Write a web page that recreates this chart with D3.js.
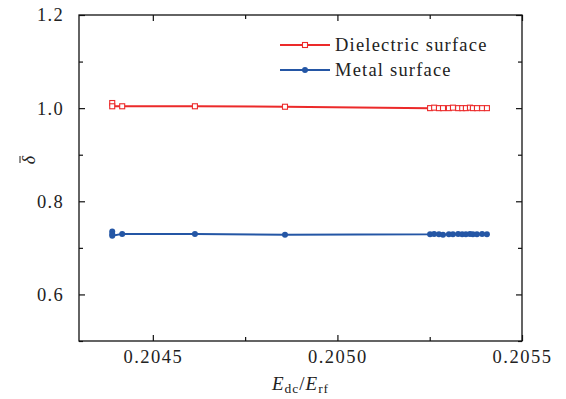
<!DOCTYPE html>
<html>
<head>
<meta charset="utf-8">
<script src="https://cdn.jsdelivr.net/npm/d3@7"></script>
<style>
  body { margin: 0; background: #fff; }
  text { font-family: "Liberation Serif", "DejaVu Serif", serif; fill: #222; }
</style>
</head>
<body>
<div id="chart"></div>
<script>
// E_dc/E_rf values (same for both surfaces, first x repeated)
const xDielectric = [0.20439, 0.20439, 0.204417, 0.204614, 0.204858, 0.205251, 0.205262, 0.205275, 0.205286,
  0.205302, 0.205313, 0.205327, 0.205338, 0.205348, 0.205359, 0.205367, 0.205378, 0.205392, 0.205405];
const yDielectric = [1.011, 1.004, 1.004, 1.004, 1.003, 1.000, 1.001, 1.000, 1.000,
  1.000, 1.001, 1.000, 1.000, 1.000, 1.001, 1.000, 1.000, 1.000, 1.000];

const xMetal = [0.20439, 0.20439, 0.20439, 0.204417, 0.204614, 0.204858, 0.205251, 0.205262, 0.205275, 0.205286,
  0.205302, 0.205313, 0.205327, 0.205338, 0.205348, 0.205359, 0.205367, 0.205378, 0.205392, 0.205405];
const yMetal = [0.735, 0.730, 0.726, 0.730, 0.730, 0.728, 0.729, 0.730, 0.729, 0.728,
  0.729, 0.729, 0.730, 0.729, 0.729, 0.730, 0.729, 0.729, 0.730, 0.729];

const xTicks = [0.2045, 0.2050, 0.2055];
const xMinor = [0.20475, 0.20525];
const yTicks = [0.6, 0.8, 1.0, 1.2];
const yMinor = [0.5, 0.7, 0.9, 1.1];

const seriesNames = ["Dielectric surface", "Metal surface"];

(function () {
  const W = 566, H = 399;
  const margin = { top: 15, right: 44, bottom: 58, left: 79 },
    width = W - margin.left - margin.right,
    height = H - margin.top - margin.bottom;

  const red = "#ec2a2a", blue = "#2456a5";

  const svg = d3.select("#chart").append("svg")
    .attr("width", W).attr("height", H);
  const g = svg.append("g")
    .attr("transform", "translate(" + margin.left + "," + margin.top + ")");

  const x = d3.scaleLinear().domain([0.2043, 0.2055]).range([0, width]);
  const y = d3.scaleLinear().domain([0.5, 1.2]).range([height, 0]);

  // frame + inward ticks on all four sides
  function ticks(axis, vals, size, transform, fmt) {
    const a = axis.tickValues(vals).tickSize(size).tickSizeOuter(0);
    a.tickFormat(fmt || "");
    const s = g.append("g").attr("transform", transform).call(a);
    s.select(".domain").remove();
    s.selectAll("line").attr("stroke", "#111").attr("stroke-width", 1.2);
    return s;
  }
  const xf = d3.format(".4f"), yf = d3.format(".1f");
  const bx = ticks(d3.axisBottom(x), xTicks, -6, "translate(0," + height + ")", xf);
  ticks(d3.axisBottom(x), xMinor, -4, "translate(0," + height + ")");
  ticks(d3.axisTop(x), xTicks, -6, "translate(0,0)");
  ticks(d3.axisTop(x), xMinor, -4, "translate(0,0)");
  const ly = ticks(d3.axisLeft(y), yTicks, -6, "translate(0,0)", yf);
  ticks(d3.axisLeft(y), yMinor, -4, "translate(0,0)");
  ticks(d3.axisRight(y), yTicks, -6, "translate(" + width + ",0)");
  ticks(d3.axisRight(y), yMinor, -4, "translate(" + width + ",0)");

  bx.selectAll("text").attr("font-size", "18.5px").attr("letter-spacing", "1.5px")
    .attr("y", 9).attr("dy", "0.71em").attr("fill", "#222");
  ly.selectAll("text").attr("font-size", "18.5px").attr("letter-spacing", "1.3px")
    .attr("x", -15).attr("fill", "#222");

  g.append("rect").attr("width", width).attr("height", height)
    .attr("fill", "none").attr("stroke", "#111").attr("stroke-width", 1.3);

  // series
  const line = d3.line().x(d => x(d[0])).y(d => y(d[1]));
  const dData = xDielectric.map((v, i) => [v, yDielectric[i]]);
  const mData = xMetal.map((v, i) => [v, yMetal[i]]);

  g.append("path").datum(dData).attr("d", line)
    .attr("fill", "none").attr("stroke", red).attr("stroke-width", 2);
  g.append("path").datum(mData).attr("d", line)
    .attr("fill", "none").attr("stroke", blue).attr("stroke-width", 2);

  g.selectAll(".sq").data(dData).enter().append("rect")
    .attr("class", "sq")
    .attr("x", d => x(d[0]) - 2.5).attr("y", d => y(d[1]) - 2.5)
    .attr("width", 5).attr("height", 5)
    .attr("fill", "#fff").attr("stroke", red).attr("stroke-width", 1.1);
  g.selectAll(".dot").data(mData).enter().append("circle")
    .attr("class", "dot")
    .attr("cx", d => x(d[0])).attr("cy", d => y(d[1])).attr("r", 3)
    .attr("fill", blue);

  // legend
  const lg = svg.append("g");
  seriesNames.forEach(function (name, i) {
    const yy = 45 + i * 25;
    const col = i === 0 ? red : blue;
    lg.append("line").attr("x1", 280).attr("x2", 330).attr("y1", yy).attr("y2", yy)
      .attr("stroke", col).attr("stroke-width", 2);
    if (i === 0) {
      lg.append("rect").attr("x", 302.5).attr("y", yy - 2.5).attr("width", 5).attr("height", 5)
        .attr("fill", "#fff").attr("stroke", red).attr("stroke-width", 1.1);
    } else {
      lg.append("circle").attr("cx", 305).attr("cy", yy).attr("r", 3).attr("fill", blue);
    }
    lg.append("text").attr("x", 335).attr("y", yy + 6)
      .attr("font-size", "18.5px").attr("letter-spacing", "1.2px").text(name);
  });

  // axis titles
  const xt = svg.append("text").attr("x", margin.left + width / 2).attr("y", 390)
    .attr("text-anchor", "middle").attr("font-size", "19px").attr("letter-spacing", "1px");
  xt.append("tspan").attr("font-style", "italic").text("E");
  xt.append("tspan").attr("font-size", "13.5px").attr("dy", 3).text("dc");
  xt.append("tspan").attr("dy", -3).text("/");
  xt.append("tspan").attr("font-style", "italic").text("E");
  xt.append("tspan").attr("font-size", "13.5px").attr("dy", 3).text("rf");

  const yl = svg.append("g").attr("transform", "translate(35,160) rotate(-90)");
  yl.append("text").attr("text-anchor", "middle").attr("font-size", "18px")
    .attr("font-style", "italic").text("δ");
  yl.append("line").attr("x1", -3).attr("x2", 4).attr("y1", -15).attr("y2", -15)
    .attr("stroke", "#222").attr("stroke-width", 1);
})();
</script>
</body>
</html>
